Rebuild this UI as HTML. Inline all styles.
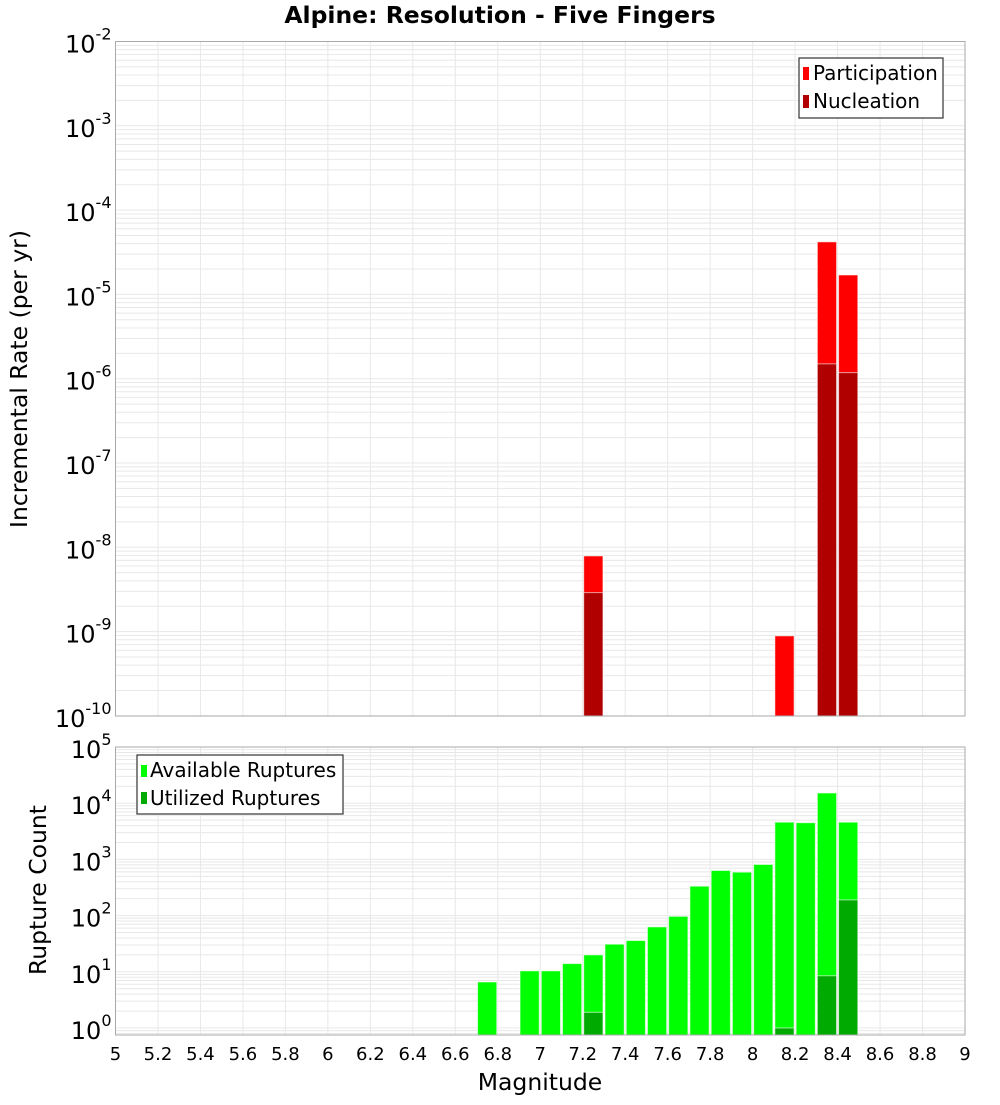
<!DOCTYPE html>
<html><head><meta charset="utf-8"><style>
body{margin:0;background:#fff;}
svg text{font-family:"DejaVu Sans","Liberation Sans",sans-serif;}
</style></head><body>
<svg id="chart" width="1000" height="1100" xmlns="http://www.w3.org/2000/svg">
<text x="500" y="23" text-anchor="middle" font-size="23.5" font-weight="bold">Alpine: Resolution - Five Fingers</text>
<g id="topPanel"></g>
<g id="botPanel"></g>
<text transform="translate(27,379) rotate(-90)" text-anchor="middle" font-size="23.5">Incremental Rate (per yr)</text>
<text transform="translate(46,890) rotate(-90)" text-anchor="middle" font-size="23.5">Rupture Count</text>
<text x="540" y="1090" text-anchor="middle" font-size="23.5">Magnitude</text>
<g id="legends"></g>
</svg>
<script>
const mags=[6.75,6.95,7.05,7.15,7.25,7.35,7.45,7.55,7.65,7.75,7.85,7.95,8.05,8.15,8.25,8.35,8.45];
const available=[6.6,10.4,10.4,14,20,31,36,63,97,334,635,593,813,4600,4500,15200,4600];
const utilized=[0,0,0,0,1.9,0,0,0,0,0,0,0,0,1,0,8.5,190];
const rateMags=[7.25,8.15,8.35,8.45];
const participation=[7.9e-9,8.9e-10,4.2e-5,1.7e-5];
const nucleation=[2.9e-9,0,1.5e-6,1.18e-6];
const xTicks=[5,5.2,5.4,5.6,5.8,6,6.2,6.4,6.6,6.8,7,7.2,7.4,7.6,7.8,8,8.2,8.4,8.6,8.8,9];
const topDecades=[-2,-3,-4,-5,-6,-7,-8,-9,-10];
const botDecades=[5,4,3,2,1,0];
const NS="http://www.w3.org/2000/svg";
const X0=115.5,X1=965;
const xs=m=>X0+(m-5)*(X1-X0)/4;
const yTop=v=>41.5+(-2-Math.log10(v))*84.3;
const yBot=v=>747+(5-Math.log10(v))*56.2;
function mk(p,t,a){const e=document.createElementNS(NS,t);for(const k in a)e.setAttribute(k,a[k]);p.appendChild(e);return e;}
function panel(g,y0,y1,decs,yf,name){
  const grid=mk(g,'g',{});
  
  
  xTicks.forEach(t=>mk(grid,'line',{x1:xs(t),x2:xs(t),y1:y0,y2:y1,stroke:'#e8e8e8','stroke-width':1}));
  const lo=Math.min(...decs),hi=Math.max(...decs);
  for(let d=lo-1;d<=hi;d++)for(let k=1;k<10;k++){const yy=yf(k*Math.pow(10,d));if(yy>=y0&&yy<=y1)mk(grid,'line',{x1:X0,x2:X1,y1:yy,y2:yy,stroke:'#e8e8e8','stroke-width':1});}
  decs.forEach(d=>{const yy=yf(Math.pow(10,d));
    const t=mk(g,'text',{x:X0-4,y:yy+11,'text-anchor':'end','font-size':24});
    
    
    t.textContent='10';
    const s=mk(t,'tspan',{dy:-13,'font-size':16});s.textContent=String(d);});
}
const topG=document.getElementById('topPanel'),botG=document.getElementById('botPanel');
panel(topG,41.5,716,topDecades,yTop,'rate');
panel(botG,747,1035,botDecades,yBot,'count');
const bw=(X1-X0)/40;
function bar(g,m,v,yf,base,fill,name){if(!v)return;const yy=Math.max(yf(v),0);
  const r=mk(g,'rect',{x:xs(m)-bw/2+1,y:yy,width:bw-2,height:base-yy,fill:fill,stroke:'#fff','stroke-opacity':0.6,'stroke-width':1});
  
  }
rateMags.forEach((m,i)=>bar(topG,m,participation[i],yTop,716,'#ff0000','participation-bar'));
rateMags.forEach((m,i)=>bar(topG,m,nucleation[i],yTop,716,'#b00000','nucleation-bar'));
mags.forEach((m,i)=>bar(botG,m,available[i],yBot,1035,'#00ff00','available-bar'));
mags.forEach((m,i)=>bar(botG,m,utilized[i],yBot,1035,'#00aa00','utilized-bar'));
mk(topG,'rect',{x:X0,y:41.5,width:X1-X0,height:716-41.5,fill:'none',stroke:'#aaa'});
mk(botG,'rect',{x:X0,y:747,width:X1-X0,height:1035-747,fill:'none',stroke:'#aaa'});
xTicks.forEach(t=>{const e=mk(botG,'text',{x:xs(t),y:1060,'text-anchor':'middle','font-size':18});
  
  
  e.textContent=String(t);});
</script>
<svg style="position:absolute;left:0;top:0" width="1000" height="1100" xmlns="http://www.w3.org/2000/svg">
<g>
<rect x="799" y="58" width="144" height="60" fill="#fff" stroke="#333" stroke-width="1.2"/>
<rect x="803" y="67" width="6" height="13" fill="#ff0000"/>
<text x="813" y="80" font-size="20" font-family="DejaVu Sans, sans-serif">Participation</text>
<rect x="803" y="95" width="6" height="13" fill="#b00000"/>
<text x="813" y="108" font-size="20" font-family="DejaVu Sans, sans-serif">Nucleation</text>
</g>
<g>
<rect x="137" y="755" width="206" height="59" fill="#fff" stroke="#333" stroke-width="1.2"/>
<rect x="141" y="765" width="6" height="12" fill="#00ff00"/>
<text x="150" y="777" font-size="20" font-family="DejaVu Sans, sans-serif">Available Ruptures</text>
<rect x="141" y="792" width="6" height="12" fill="#00aa00"/>
<text x="150" y="805" font-size="20" font-family="DejaVu Sans, sans-serif">Utilized Ruptures</text>
</g>
</svg>
</body></html>
